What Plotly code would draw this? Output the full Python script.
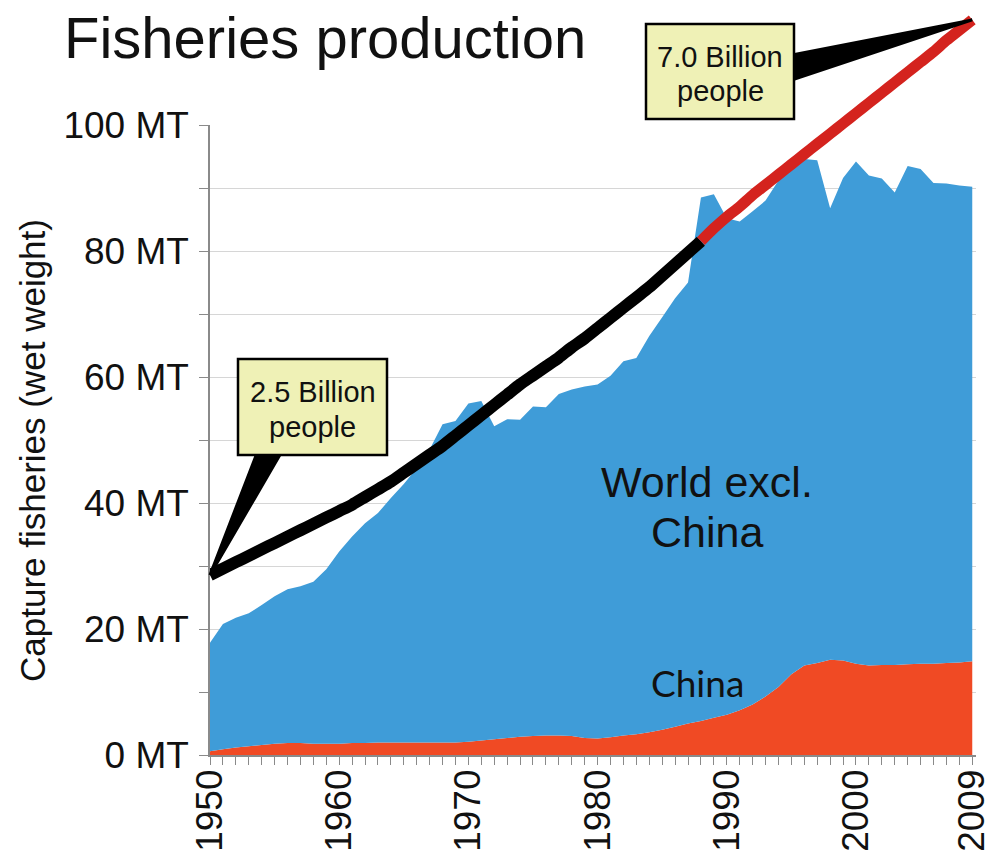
import plotly.graph_objects as go

# ---- data -------------------------------------------------------------
years = list(range(1950, 2010))

# China capture fisheries, million tonnes (wet weight)
china = [0.6, 0.9, 1.2, 1.4, 1.6, 1.8, 1.9, 1.9, 1.8, 1.8,
         1.8, 1.9, 1.9, 2.0, 2.0, 2.0, 2.0, 2.0, 2.0, 2.0,
         2.1, 2.3, 2.5, 2.7, 2.9, 3.0, 3.1, 3.1, 3.0, 2.7,
         2.6, 2.8, 3.1, 3.3, 3.6, 4.0, 4.5, 5.0, 5.4, 5.9,
         6.4, 7.1, 8.0, 9.3, 10.8, 12.8, 14.2, 14.6, 15.1, 15.0,
         14.5, 14.2, 14.3, 14.3, 14.4, 14.5, 14.5, 14.6, 14.7, 14.9]

# Rest of the world, million tonnes (stacked on top of China)
world_excl_china = [17.2, 19.9, 20.6, 21.1, 22.2, 23.4, 24.4, 24.9, 25.7, 27.7,
                    30.5, 32.8, 34.9, 36.4, 38.8, 41.0, 43.5, 46.5, 50.5, 51.0,
                    53.7, 53.9, 49.7, 50.6, 50.3, 52.3, 52.1, 54.2, 55.0, 55.8,
                    56.2, 57.4, 59.4, 59.7, 62.9, 65.5, 68.0, 70.0, 83.1, 83.1,
                    78.8, 77.6, 78.3, 78.7, 80.4, 80.0, 80.4, 79.8, 71.7, 76.6,
                    79.7, 77.8, 77.2, 75.0, 79.1, 78.5, 76.3, 76.1, 75.7, 75.3]

# World population, billions (drawn on its own hidden scale)
population = [2.53, 2.58, 2.63, 2.68, 2.73, 2.78, 2.83, 2.88, 2.93, 2.98,
              3.03, 3.08, 3.14, 3.20, 3.26, 3.33, 3.40, 3.47, 3.54, 3.62,
              3.70, 3.78, 3.86, 3.94, 4.02, 4.09, 4.16, 4.23, 4.31, 4.38,
              4.46, 4.54, 4.62, 4.70, 4.78, 4.87, 4.96, 5.05, 5.14, 5.24,
              5.33, 5.41, 5.50, 5.58, 5.66, 5.74, 5.82, 5.90, 5.98, 6.06,
              6.14, 6.22, 6.30, 6.38, 6.46, 6.54, 6.62, 6.71, 6.79, 6.87]
split_year = 1988  # population line turns red from here on

y_ticks = list(range(0, 101, 10))
y_tick_text = [f"{v} MT" if v % 20 == 0 else "" for v in y_ticks]
x_ticks = [1950, 1960, 1970, 1980, 1990, 2000, 2009]
x_tick_text = [str(v) for v in x_ticks]

# ---- geometry ---------------------------------------------------------
W, H = 988, 854
ML, MR, MT, MB = 210, 12, 10, 99
PW, PH = W - ML - MR, H - MT - MB
X_RANGE = [1950, 2009.29]
Y_DOMAIN_TOP = 630 / PH
POP_RANGE = [1.123, 6.947]

BLUE = "#3f9cd8"
ORANGE = "#f04a24"
RED = "#d4231e"
BOX = "#eff1b6"
FONT = "Liberation Sans, Arial, sans-serif"


def px_to_paper(px, py):
    return (px - ML) / PW, (H - MB - py) / PH


def data_to_paper(year, pop):
    fx = (year - X_RANGE[0]) / (X_RANGE[1] - X_RANGE[0])
    fy = (pop - POP_RANGE[0]) / (POP_RANGE[1] - POP_RANGE[0])
    return fx, fy


# ---- traces -----------------------------------------------------------
fig = go.Figure()
fig.add_trace(go.Scatter(x=years, y=china, stackgroup="catch", mode="none",
                         fillcolor=ORANGE, name="China", hoverinfo="x+y"))
fig.add_trace(go.Scatter(x=years, y=world_excl_china, stackgroup="catch", mode="none",
                         fillcolor=BLUE, name="World excl. China", hoverinfo="x+y"))

i_split = years.index(split_year)
fig.add_trace(go.Scatter(x=years[:i_split + 1], y=population[:i_split + 1], yaxis="y2",
                         mode="lines", line=dict(color="black", width=12, shape="spline",
                                                 smoothing=0.6),
                         name="Population"))
fig.add_trace(go.Scatter(x=years[i_split:], y=population[i_split:], yaxis="y2",
                         mode="lines", line=dict(color=RED, width=11, shape="spline",
                                                 smoothing=0.6),
                         name="Population"))

# ---- callouts ---------------------------------------------------------
shapes = []
annotations = []


def callout(box_px, base_px, tip_data, lines, text_y_px):
    x0, y0, x1, y1 = box_px
    tx, ty = data_to_paper(*tip_data)
    (bx0, by0), (bx1, by1) = [px_to_paper(*p) for p in base_px]
    shapes.append(dict(type="path", xref="paper", yref="paper", layer="above",
                       path=f"M {bx0},{by0} L {tx},{ty} L {bx1},{by1} Z",
                       fillcolor="black", line=dict(color="black", width=3)))
    px0, py0 = px_to_paper(x0, y1)
    px1, py1 = px_to_paper(x1, y0)
    shapes.append(dict(type="rect", xref="paper", yref="paper", layer="above",
                       x0=px0, y0=py0, x1=px1, y1=py1,
                       fillcolor=BOX, line=dict(color="black", width=2.5)))
    cx = (x0 + x1) / 2
    for text, ty_px in zip(lines, text_y_px):
        ax, ay = px_to_paper(cx, ty_px)
        annotations.append(dict(xref="paper", yref="paper", x=ax, y=ay,
                                text=text, showarrow=False, xanchor="center",
                                yanchor="middle",
                                font=dict(family=FONT, size=29, color="#111")))


callout((238, 359, 387, 455), [(257, 453), (281, 453)],
        (years[0], population[0]), ["2.5 Billion", "people"], [392, 427])
callout((646, 24, 794, 119), [(792, 55), (792, 80)],
        (years[-1], population[-1]), ["7.0 Billion", "people"], [57, 91])


# ---- text labels ------------------------------------------------------
def add_text(px, py, text, size, family=FONT, anchor="center", angle=0):
    ax, ay = px_to_paper(px, py)
    annotations.append(dict(xref="paper", yref="paper", x=ax, y=ay, text=text,
                            showarrow=False, xanchor=anchor, yanchor="middle",
                            textangle=angle,
                            font=dict(family=family, size=size, color="#111")))


add_text(62, 37, "Fisheries production", 58, anchor="left")
add_text(32, 451, "Capture fisheries (wet weight)", 35, angle=-90)
add_text(707, 482, "World excl.", 43)
add_text(707, 532, "China", 43)
add_text(697, 682, "China", 37, family="Lato, Carlito, sans-serif")

# ---- layout -----------------------------------------------------------
fig.update_layout(
    width=W, height=H,
    margin=dict(l=ML, r=MR, t=MT, b=MB, pad=0),
    paper_bgcolor="white", plot_bgcolor="rgba(0,0,0,0)",
    showlegend=False,
    font=dict(family=FONT, color="#111"),
    xaxis=dict(range=X_RANGE, tickmode="array", tickvals=x_ticks,
               ticktext=x_tick_text, tickangle=-90, ticks="outside",
               ticklen=8, tickcolor="#8a8a8a", tickfont=dict(size=37, color="#111"),
               ticklabeloverflow="allow", ticklabelstandoff=-10,
               showline=True, linecolor="#8a8a8a", linewidth=1.5,
               showgrid=False, zeroline=False, automargin=False,
               anchor="y",
               minor=dict(tickmode="linear", tick0=1950, dtick=1, ticks="outside",
                          ticklen=8, tickcolor="#8a8a8a", showgrid=False)),
    yaxis=dict(domain=[0, Y_DOMAIN_TOP], range=[0, 100], tickmode="array",
               tickvals=y_ticks, ticktext=y_tick_text, ticks="outside",
               ticklen=9, tickcolor="#8a8a8a", tickfont=dict(size=37, color="#111"),
               ticklabelstandoff=3,
               showline=True, linecolor="#8a8a8a", linewidth=1.5,
               showgrid=True, gridcolor="#d6d6d6", gridwidth=1.3,
               zeroline=False, automargin=False, anchor="x", layer="below traces"),
    yaxis2=dict(domain=[0, 1], range=POP_RANGE, anchor="x", visible=False,
                showgrid=False, zeroline=False),
    shapes=shapes,
    annotations=annotations,
)

fig.write_html("out.html")
